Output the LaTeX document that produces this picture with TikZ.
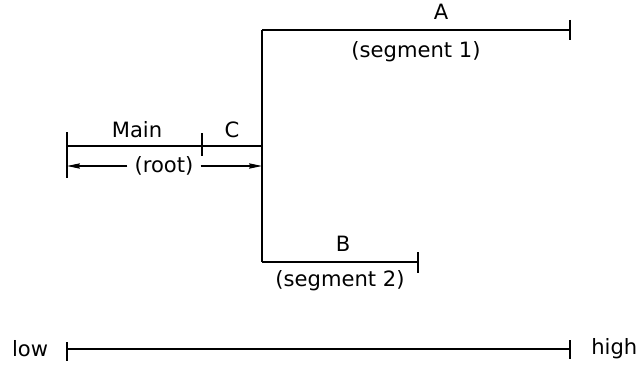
\documentclass[tikz,border=0pt]{standalone}
\usepackage{fontspec}
\setmainfont{DejaVu Sans}
\usetikzlibrary{arrows.meta, positioning, calc}

\begin{document}
\begin{tikzpicture}[x=0.03cm, y=-0.03cm,
  seg/.style={line width=1.4pt},
  dimline/.style={-{Stealth[length=11pt, width=4.5pt, inset=1pt]}, line width=0.9pt},
  lbl/.style={font=\fontsize{18}{21}\selectfont, inner sep=2pt},
]
  \useasboundingbox (0,0) rectangle (641,368);
  % end points of the segments
  \coordinate (rootL) at (67,146);
  \coordinate (mainC) at (202,146);
  \coordinate (fork) at (262,146);
  \coordinate (forkA) at (262,30);
  \coordinate (forkB) at (262,262);
  \coordinate (endA) at (570,30);
  \coordinate (endB) at (418,262);
  \coordinate (low) at (67,349);
  \coordinate (high) at (570,349);

  \node[lbl] (main) at (137,130) {Main};
  \node[lbl] (C) at (232,130) {C};
  \node[lbl, inner sep=6pt] (root) at (164,166) {(root)};
  \node[lbl] (A) at (441,12) {A};
  \node[lbl] (seg1) at (416,52) {(segment 1)};
  \node[lbl] (B) at (343,244) {B};
  \node[lbl] (seg2) at (340,281) {(segment 2)};
  \node[lbl, left=14pt of low] (lowtxt) {low};
  \node[lbl, right=16pt of high] (hightxt) {high};

  % root
  \draw[seg] (rootL) -- (fork);
  \draw[seg] ($(rootL)+(0,-14)$) -- ($(rootL)+(0,32)$);
  \draw[line width=0.9pt] ($(mainC)+(0,-13)$) -- ($(mainC)+(0,10)$);
  \draw[dimline] (root.west) -- (rootL |- root);
  \draw[dimline] (root.east) -- (fork |- root);
  % segments
  \draw[seg] (forkA) -- (forkB);
  \draw[seg] (forkA) -- (endA);
  \draw[seg] ($(endA)+(0,-10)$) -- ($(endA)+(0,10)$);
  \draw[seg] (forkB) -- (endB);
  \draw[seg] ($(endB)+(0,-10)$) -- ($(endB)+(0,11)$);
  % scale
  \draw[seg] (low) -- (high);
  \draw[line width=0.9pt] ($(low)+(0,-7)$) -- ($(low)+(0,12)$);
  \draw[seg] ($(high)+(0,-9)$) -- ($(high)+(0,10)$);
\end{tikzpicture}
\end{document}
